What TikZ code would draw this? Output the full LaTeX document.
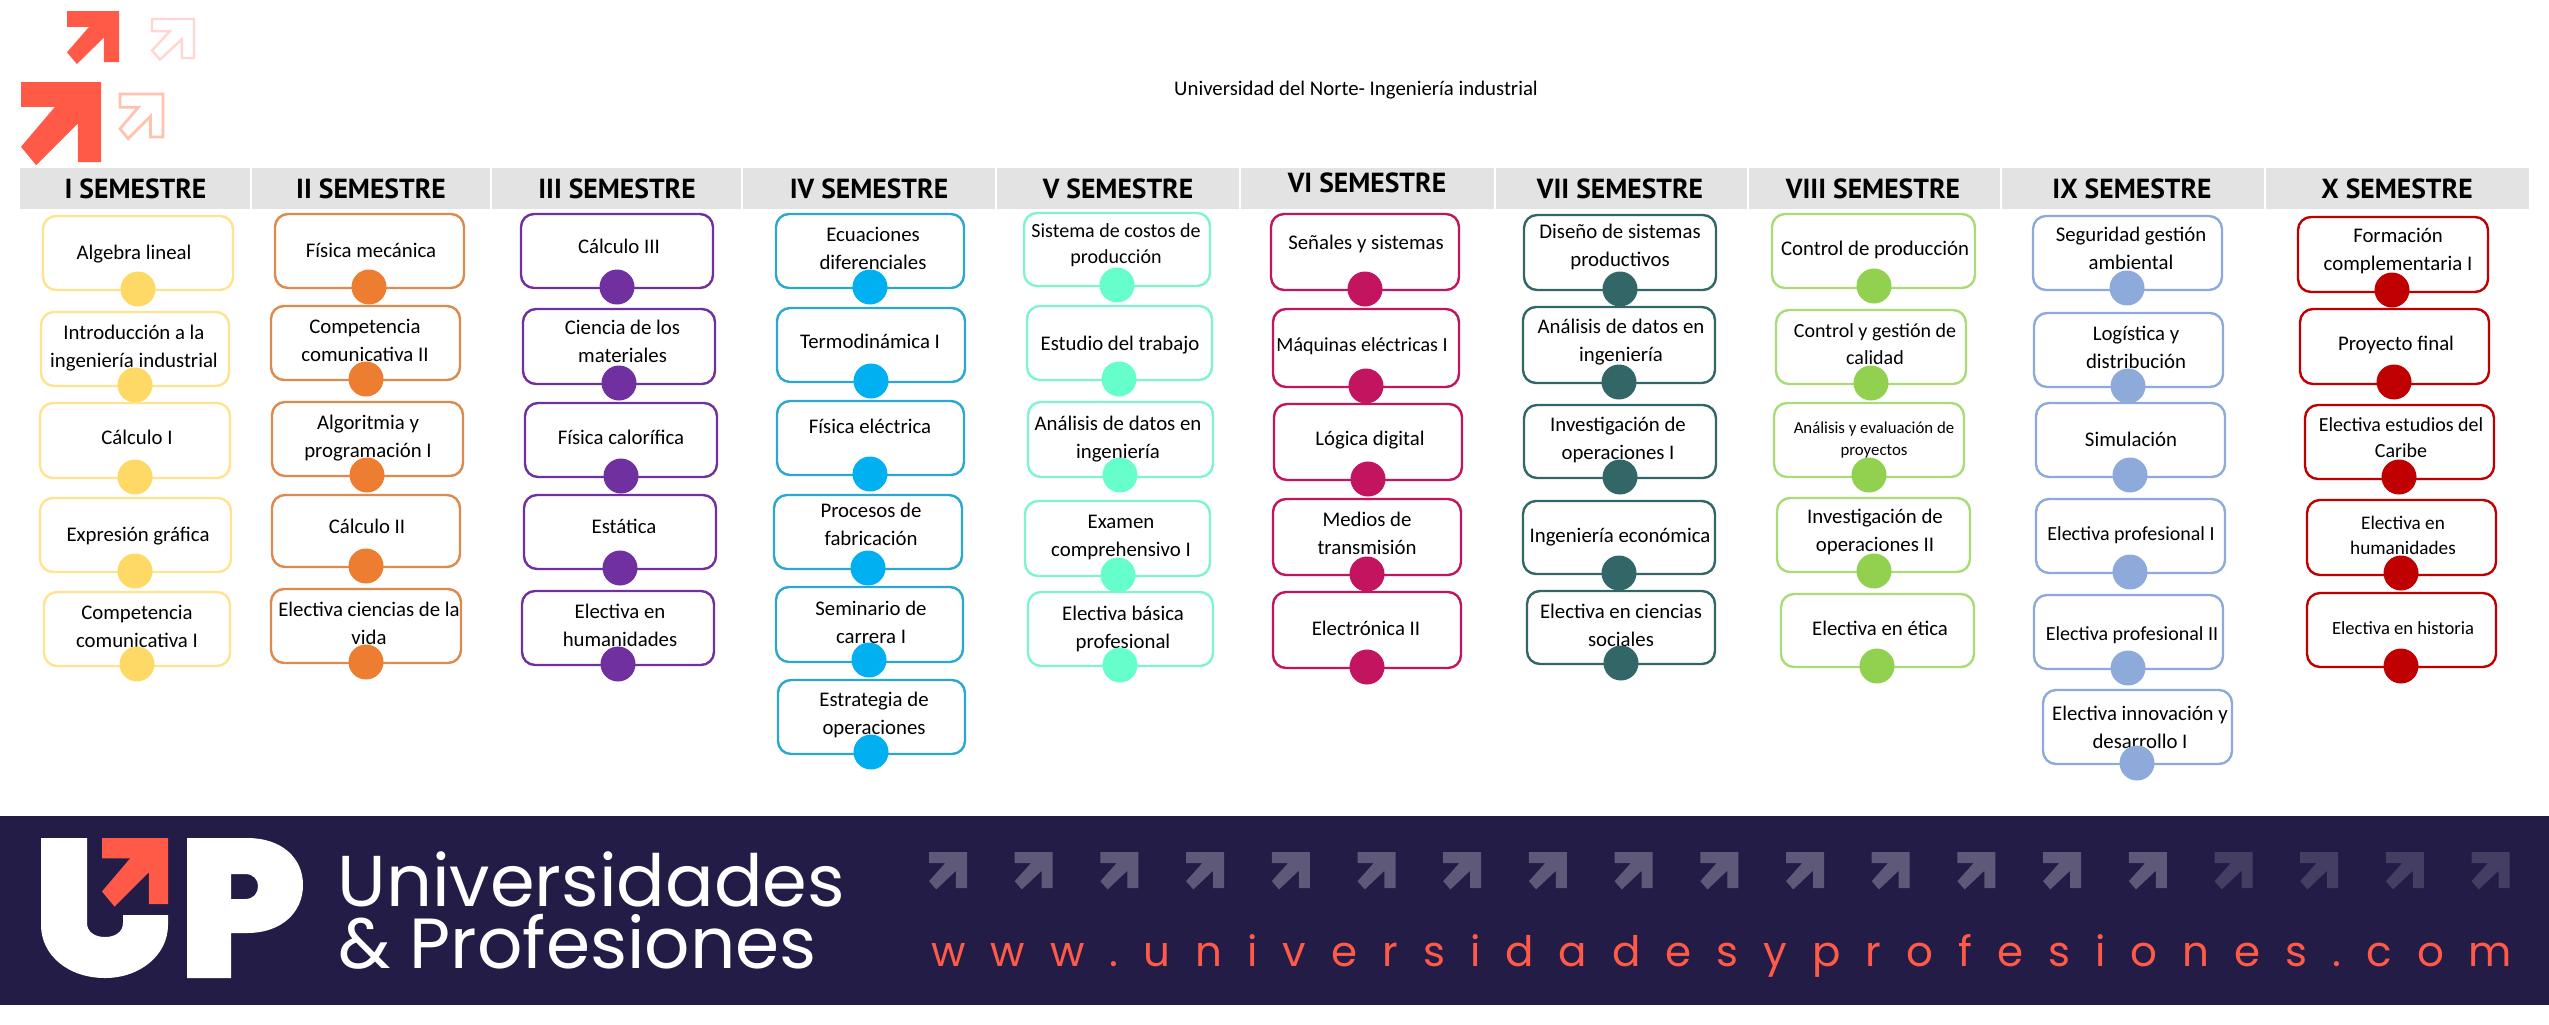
\documentclass[tikz,border=0pt]{standalone}
\usepackage{fontspec}
\setmainfont{Carlito}
\newfontfamily\headfont{PT Sans}
\newfontfamily\logofont{Poppins}
\newfontfamily\urlfont[LetterSpace=59.6]{Poppins}
\usetikzlibrary{fit}

\definecolor{bannerblue}{HTML}{221C46}
\definecolor{upcoral}{HTML}{FF5A48}
\definecolor{headgrey}{HTML}{E3E3E3}
\definecolor{yellowline}{HTML}{FFE38F}
\definecolor{yellowdot}{HTML}{FFD966}
\definecolor{orangeline}{HTML}{DD8A4E}
\definecolor{orangedot}{HTML}{ED7D31}
\definecolor{purpledot}{HTML}{7030A0}
\definecolor{blueline}{HTML}{2AA8D2}
\definecolor{bluedot}{HTML}{00B0F0}
\definecolor{mintline}{HTML}{7FF5CF}
\definecolor{mintdot}{HTML}{66FFCC}
\definecolor{magentadot}{HTML}{C2145F}
\definecolor{tealdot}{HTML}{336666}
\definecolor{greenline}{HTML}{A9DC78}
\definecolor{greendot}{HTML}{92D050}
\definecolor{steeldot}{HTML}{8EAADB}
\definecolor{reddot}{HTML}{C00000}

\newcommand{\smalltxt}{\fontsize{10}{13}\selectfont}
\newcommand{\humtxt}{\fontsize{9.6}{12.5}\selectfont}
\newcommand{\histtxt}{\fontsize{9.3}{12}\selectfont}
\newcommand{\tinytxt}{\fontsize{8.4}{11}\selectfont}

\tikzset{
    coursebox/.style={draw=#1, fill=white, line width=1.2pt, rounded corners=6.5pt, inner sep=0pt},
    coursedot/.style={circle, fill=#1, minimum size=17.5pt, inner sep=0pt},
    coursetxt/.style={align=center, inner sep=0pt, font=\fontsize{10.4}{14}\selectfont},
    headcell/.style={fill=headgrey, inner sep=0pt},
    headtxt/.style={inner sep=0pt, font=\headfont\bfseries\fontsize{13.8}{16}\selectfont},
    upmark/.pic={
        \path[pic actions] (0,0) -- (1,0) -- (1,1) -- (.71,1) -- (.71,.52) -- (.19,1.04)
            -- (0,.81) -- (.425,.31) -- (0,.31) -- cycle;
    }
}

\begin{document}
\begin{tikzpicture}[x=0.5pt,y=-0.5pt]
    \useasboundingbox (0,0) rectangle (2549,1024);

    % Top logo marks
    \pic[fill=upcoral, xscale=80, yscale=80] at (21,82) {upmark};
    \pic[fill=upcoral, xscale=52, yscale=51] at (67,11) {upmark};
    \pic[draw=orange!35!upcoral!40, line width=1.4pt, xscale=43, yscale=43] at (120,94) {upmark};
    \pic[draw=upcoral!25, line width=1.2pt, xscale=42, yscale=39] at (152,19) {upmark};

    % Title
    \node[coursetxt] (title) at (1356,90) {Universidad del Norte- Ingeniería industrial};

    % Semester headers
    \foreach \cellname/\xa/\xb/\tx/\ty/\txt in {
        hI/20/250/135.5/189/I SEMESTRE, hII/252/490/371/189/II SEMESTRE,
        hIII/492/741/617/189/III SEMESTRE, hIV/743/995/869/189/IV SEMESTRE,
        hV/997/1239/1118/189/V SEMESTRE, hVI/1241/1494/1367/183/VI SEMESTRE,
        hVII/1496/1747/1620/189/VII SEMESTRE, hVIII/1749/2000/1873/189/VIII SEMESTRE,
        hIX/2002/2264/2132/189/IX SEMESTRE, hX/2266/2529/2397/189/X SEMESTRE}{
        \node[headcell, fit={(\xa,168)(\xb,209)}] (\cellname) {};
        \node[headtxt] (\cellname t) at (\tx,\ty) {\txt};
    }

    % Column I
    \foreach \boxname/\xa/\ya/\xb/\yb/\cx/\cy/\tx/\ty/\txt in {
        aI/43/216/233/290/138/289/134/254/{Algebra lineal},
        aII/41/312/229/386/135/385/134/348/{Introducción a la\\ingeniería industrial},
        aIII/40/403/230/478/135/477/137/437/{Cálculo I},
        aIV/40/498/231/572/135/571/138/536/{Expresión gráfica},
        aV/44/592/230/666/137/664/137/626/{Competencia\\comunicativa I}}{
        \node[coursebox=yellowline, fit={(\xa,\ya)(\xb,\yb)}] (\boxname) {};
        \node[coursetxt] (\boxname t) at (\tx,\ty) {\txt};
        \node[coursedot=yellowdot] (\boxname d) at (\cx,\cy) {};
    }

    % Column II
    \foreach \boxname/\xa/\ya/\xb/\yb/\cx/\cy/\tx/\ty/\txt in {
        bI/275/214/464/288/369/287/371/250/{Física mecánica},
        bII/271/306/460/380/366/379/365/340/{Competencia\\comunicativa II},
        bIII/272/402/463/476/367/475/368/438/{Algoritmia y\\programación I},
        bIV/272/495/460/567/366/566/367/526/{Cálculo II},
        bV/271/589/461/663/366/662/369/623/{Electiva ciencias de la\\vida}}{
        \node[coursebox=orangeline, fit={(\xa,\ya)(\xb,\yb)}] (\boxname) {};
        \node[coursetxt] (\boxname t) at (\tx,\ty) {\txt};
        \node[coursedot=orangedot] (\boxname d) at (\cx,\cy) {};
    }

    % Column III
    \foreach \boxname/\xa/\ya/\xb/\yb/\cx/\cy/\tx/\ty/\txt in {
        cI/521/214/713/288/617/287/619/246/{Cálculo III},
        cII/523/309/715/384/619/383/622.5/341/{Ciencia de los\\materiales},
        cIII/525/403/717/477/621/476/621/437/{Física calorífica},
        cIV/524/495/716/569/620/568/624/526/{Estática},
        cV/522/591/714/665/618/664/620/625/{Electiva en\\humanidades}}{
        \node[coursebox=purpledot, fit={(\xa,\ya)(\xb,\yb)}] (\boxname) {};
        \node[coursetxt] (\boxname t) at (\tx,\ty) {\txt};
        \node[coursedot=purpledot] (\boxname d) at (\cx,\cy) {};
    }

    % Column IV
    \foreach \boxname/\xa/\ya/\xb/\yb/\cx/\cy/\tx/\ty/\txt in {
        dI/776/214/964/288/870/287/873/248/{Ecuaciones\\diferenciales},
        dII/777/308/965/382/871/381/870/341/{Termodinámica I},
        dIII/777/401/964/475/870/474/870/426/{Física eléctrica},
        dIV/774/495/962/569/868/568/871/524/{Procesos de\\fabricación},
        dV/776/587/963/662/869/660/871/622/{Seminario de\\carrera I},
        dVI/778/680/965/754/871/752/874/715/{Estrategia de\\operaciones}}{
        \node[coursebox=blueline, fit={(\xa,\ya)(\xb,\yb)}] (\boxname) {};
        \node[coursetxt] (\boxname t) at (\tx,\ty) {\txt};
        \node[coursedot=bluedot] (\boxname d) at (\cx,\cy) {};
    }

    % Column V
    \foreach \boxname/\xa/\ya/\xb/\yb/\cx/\cy/\tx/\ty/\txt in {
        eI/1024/213/1210/286/1117/285/1116/245/{\smalltxt Sistema de costos de\\[-1pt]\smalltxt producción},
        eII/1027/306/1212/380/1119/379/1120/345/{Estudio del trabajo},
        eIII/1028/402/1213/477/1120/475/1118/439/{Análisis de datos en\\ingeniería},
        eIV/1025/501/1210/576/1118/575/1121/537/{Examen\\comprehensivo I},
        eV/1028/592/1213/666/1120/665/1123/629/{Electiva básica\\profesional}}{
        \node[coursebox=mintline, fit={(\xa,\ya)(\xb,\yb)}] (\boxname) {};
        \node[coursetxt] (\boxname t) at (\tx,\ty) {\txt};
        \node[coursedot=mintdot] (\boxname d) at (\cx,\cy) {};
    }

    % Column VI
    \foreach \boxname/\xa/\ya/\xb/\yb/\cx/\cy/\tx/\ty/\txt in {
        fI/1271/214/1459/290/1365/289/1366/244/{Señales y sistemas},
        fII/1273/309/1459/387/1366/386/1362/346.5/{\smalltxt Máquinas eléctricas I},
        fIII/1274/404/1462/480/1368/479/1370/440/{Lógica digital},
        fIV/1273/499/1461/575/1367/574/1367/533/{Medios de\\transmisión},
        fV/1273/592/1461/668/1367/667/1366/628/{Electrónica II}}{
        \node[coursebox=magentadot, fit={(\xa,\ya)(\xb,\yb)}] (\boxname) {};
        \node[coursetxt] (\boxname t) at (\tx,\ty) {\txt};
        \node[coursedot=magentadot] (\boxname d) at (\cx,\cy) {};
    }

    % Column VII
    \foreach \boxname/\xa/\ya/\xb/\yb/\cx/\cy/\tx/\ty/\txt in {
        gI/1524/215/1716/290/1620/289/1620/247/{Diseño de sistemas\\productivos},
        gII/1523/307/1715/383/1619/382/1621/342/{Análisis de datos en\\ingeniería},
        gIII/1524/405/1716/478/1620/477/1618/440/{Investigación de\\operaciones I},
        gIV/1523/501/1715/574/1619/573/1620/537/{Ingeniería económica},
        gV/1527/591/1715/664/1621/663/1621/625/{Electiva en ciencias\\sociales}}{
        \node[coursebox=tealdot, fit={(\xa,\ya)(\xb,\yb)}] (\boxname) {};
        \node[coursetxt] (\boxname t) at (\tx,\ty) {\txt};
        \node[coursedot=tealdot] (\boxname d) at (\cx,\cy) {};
    }

    % Column VIII
    \foreach \boxname/\xa/\ya/\xb/\yb/\cx/\cy/\tx/\ty/\txt in {
        hhI/1772/214/1975/288/1874/286/1875/250/{Control de producción},
        hhII/1776/310/1966/384/1871/383/1875/344/{\smalltxt Control y gestión de\\[-.7pt]\smalltxt calidad},
        hhIII/1774/403/1964/477/1869/475/1874/440/{\tinytxt Análisis y evaluación de\\[-3pt]\tinytxt proyectos},
        hhIV/1777/498/1970/572/1874/571/1875/532/{Investigación de\\operaciones II},
        hhV/1781/594/1974/667/1877/666/1880/628/{Electiva en ética}}{
        \node[coursebox=greenline, fit={(\xa,\ya)(\xb,\yb)}] (\boxname) {};
        \node[coursetxt] (\boxname t) at (\tx,\ty) {\txt};
        \node[coursedot=greendot] (\boxname d) at (\cx,\cy) {};
    }

    % Column IX
    \foreach \boxname/\xa/\ya/\xb/\yb/\cx/\cy/\tx/\ty/\txt in {
        iI/2033/216/2222/290/2127/288/2131/248/{Seguridad gestión\\ambiental},
        iII/2034/313/2223/387/2128/386/2136/347/{Logística y\\distribución},
        iIII/2036/403/2225/477/2130/475/2131/439/{Simulación},
        iIV/2036/499/2225/573/2130/572/2131/535/{\smalltxt Electiva profesional I},
        iV/2034/595/2223/669/2128/668/2132/635/{\smalltxt Electiva profesional II},
        iVI/2043/690/2232/764/2137/763/2140/727/{Electiva innovación y\\desarrollo I}}{
        \node[coursebox=steeldot, fit={(\xa,\ya)(\xb,\yb)}] (\boxname) {};
        \node[coursetxt] (\boxname t) at (\tx,\ty) {\txt};
        \node[coursedot=steeldot] (\boxname d) at (\cx,\cy) {};
    }

    % Column X
    \foreach \boxname/\xa/\ya/\xb/\yb/\cx/\cy/\tx/\ty/\txt in {
        jI/2298/217/2488/292/2392/290/2398/251/{Formación\\complementaria I},
        jII/2300/309/2489/384/2394/382/2396/345/{Proyecto final},
        jIII/2305/405/2494/479/2399/477/2401/438/{\smalltxt Electiva estudios del\\[-1pt]\smalltxt Caribe},
        jIV/2307/500/2496/575/2401/573/2403/535.5/{\humtxt Electiva en\\[-1.5pt]\humtxt humanidades},
        jV/2307/593/2496/667/2401/666/2403/628/{\histtxt Electiva en historia}}{
        \node[coursebox=reddot, fit={(\xa,\ya)(\xb,\yb)}] (\boxname) {};
        \node[coursetxt] (\boxname t) at (\tx,\ty) {\txt};
        \node[coursedot=reddot] (\boxname d) at (\cx,\cy) {};
    }

    % Banner
    \fill[bannerblue] (0,816) rectangle (2549,1005);

    % UP logo
    \fill[white] (41,838) -- (87,838) -- (87,923) .. controls (87,932) and (95,937) .. (105,937)
        .. controls (115,937) and (123,932) .. (123,923) -- (123,915) -- (168,915) -- (168,925)
        .. controls (168,955) and (140,978) .. (105,978) .. controls (68,978) and (41,955) .. (41,925) -- cycle;
    \pic[fill=upcoral, xscale=66, yscale=66] at (102,838) {upmark};
    \fill[white, even odd rule] (187,838) -- (247,838) .. controls (282,838) and (303,858) .. (303,885)
        .. controls (303,912) and (282,933) .. (247,933) -- (231,933) -- (231,978) -- (187,978) -- cycle
        (231,874) -- (245,874) .. controls (254,874) and (258,880) .. (258,886)
        .. controls (258,893) and (254,899) .. (245,899) -- (231,899) -- cycle;

    \node[inner sep=0pt, anchor=base west, text=white, font=\logofont\fontsize{36}{40}\selectfont] (univ) at (337,906) {Universidades};
    \node[inner sep=0pt, anchor=base west, text=white, font=\logofont\fontsize{35.5}{40}\selectfont] (prof) at (338,968) {\& Profesiones};

    % Banner arrows
    \foreach \i in {0,...,14}{
        \pic[fill=white!27!bannerblue, xscale=38, yscale=36] at (929+\i*85.7,852) {upmark};
    }
    \foreach \i in {15,...,18}{
        \pic[fill=white!15!bannerblue, xscale=38, yscale=36] at (929+\i*85.7,852) {upmark};
    }

    % Web address
    \node[inner sep=0pt, anchor=base west, text=upcoral, font=\urlfont\fontsize{21}{24}\selectfont] (web) at (931,966) {www.universidadesyprofesiones.com};
\end{tikzpicture}
\end{document}
